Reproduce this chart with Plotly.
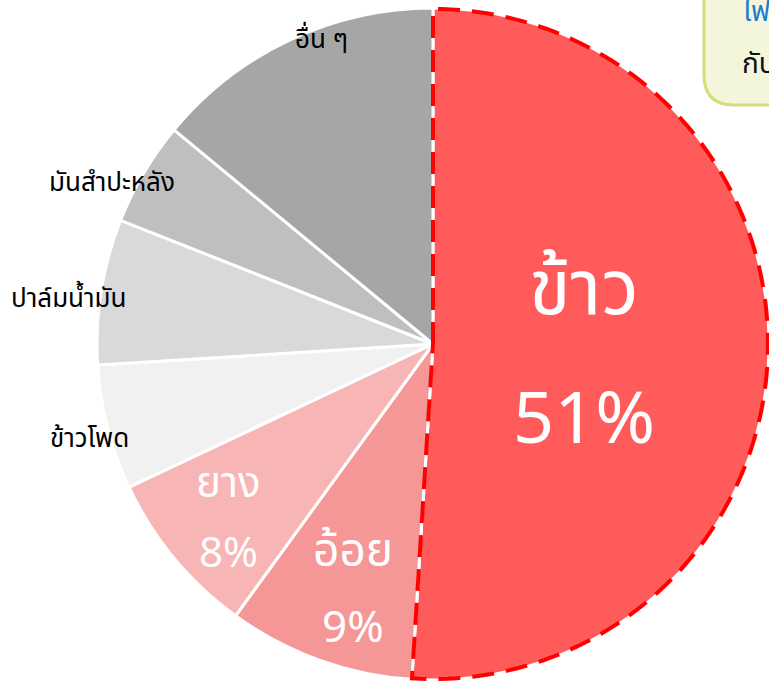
import math
import plotly.graph_objects as go

W, H = 769, 683

# ---- data ----
crops = ["ข้าว", "อ้อย", "ยาง", "ข้าวโพด", "ปาล์มน้ำมัน", "มันสำปะหลัง", "อื่น ๆ"]
shares = [51, 9, 8, 6, 7, 5, 14]
pct_labels = ["51%", "9%", "8%", "", "", "", ""]
colors = ["#FF5B5B", "#F59797", "#F8B5B5", "#F1F1F1", "#D9D9D9", "#BFBFBF", "#A6A6A6"]
callout_lines = ["ไฟ", "กับ"]

FONT = "Noto Sans Thai, Noto Sans Thai Looped, Noto Sans, DejaVu Sans, sans-serif"

# pie geometry (pixels)
left, top, bottom = 97, 8, 680
dom_x = [left / W, 1.0]
dom_y = [1 - bottom / H, 1 - top / H]
R = (bottom - top) / 2
cx = (left + W) / 2
cy = (top + bottom) / 2

fig = go.Figure(go.Pie(
    labels=crops, values=shares, sort=False, direction="clockwise", rotation=0,
    marker=dict(colors=colors, line=dict(color="white", width=3)),
    textinfo="none", hoverinfo="label+percent", domain=dict(x=dom_x, y=dom_y),
    showlegend=False,
))

def px2paper(x, y):
    return x / W, 1 - y / H

total = sum(shares)
cum = 0
spans = []
for v in shares:
    a0 = cum / total * 360
    cum += v
    a1 = cum / total * 360
    spans.append((a0, a1))

def polar(theta_deg, r):
    t = math.radians(theta_deg)
    return cx + r * math.sin(t), cy - r * math.cos(t)

# label placement: (radius factor, angle tweak, name size, pct size, color, name dy, pct dy)
label_style = [
    (0.45, 0, 76, 72, "white", -58, 72),
    (0.77, -1.8, 46, 44, "white", -38, 38),
    (0.80, -1, 42, 42, "white", -35, 35),
    (1.06, -1, 26, 0, "black", 0, 0),
    (1.09, -2, 26, 0, "black", 0, 0),
    (1.07, -4, 26, 0, "black", 0, 0),
    (0.965, 5, 26, 0, "black", 0, 0),
]
annotations = []
for i, (name, pct) in enumerate(zip(crops, pct_labels)):
    a0, a1 = spans[i]
    rf, dth, fs, fs2, col, dy1, dy2 = label_style[i]
    x, y = polar((a0 + a1) / 2 + dth, rf * R)
    items = [(name, dy1, fs)]
    if pct:
        items.append((pct, dy2, fs2))
    for txt, dy, size in items:
        px, py = px2paper(x, y + dy)
        annotations.append(dict(x=px, y=py, xref="paper", yref="paper", text=txt,
                                showarrow=False, font=dict(size=size, color=col, family=FONT),
                                xanchor="center", yanchor="middle"))

# dashed outline around the rice slice
a0, a1 = spans[0]
pts = [(cx, cy)]
n = 120
for k in range(n + 1):
    pts.append(polar(a0 + (a1 - a0) * k / n, R - 1))
path = "M " + " L ".join("%.5f,%.5f" % px2paper(x, y) for x, y in pts) + " Z"

shapes = [dict(type="path", path=path, xref="paper", yref="paper",
               line=dict(color="#FF0000", width=4, dash="22px,12px"), layer="above")]

# callout box (rounded) at top-right
bx, bb, rr = 704, 105, 30
bp = "M %.5f,%.5f L %.5f,%.5f Q %.5f,%.5f %.5f,%.5f L %.5f,%.5f L %.5f,%.5f Z" % (
    *px2paper(bx, -30), *px2paper(bx, bb - rr), *px2paper(bx, bb), *px2paper(bx + rr, bb),
    *px2paper(W + 40, bb), *px2paper(W + 40, -30))
shapes.append(dict(type="path", path=bp, xref="paper", yref="paper",
                   fillcolor="#F4F6DC", line=dict(color="#D6DC76", width=3), layer="above"))

for txt, y, col in ((callout_lines[0], 12, "#1E7BD2"), (callout_lines[1], 64, "#111111")):
    px, py = px2paper(740, y)
    annotations.append(dict(x=px, y=py, xref="paper", yref="paper", text=txt, showarrow=False,
                            font=dict(size=28, color=col, family=FONT),
                            xanchor="left", yanchor="middle"))

fig.update_layout(width=W, height=H, margin=dict(l=0, r=0, t=0, b=0),
                  paper_bgcolor="white", plot_bgcolor="white",
                  annotations=annotations, shapes=shapes)
fig.write_html("out.html", config={"displayModeBar": False},
               post_script="document.body.style.margin='0';")
